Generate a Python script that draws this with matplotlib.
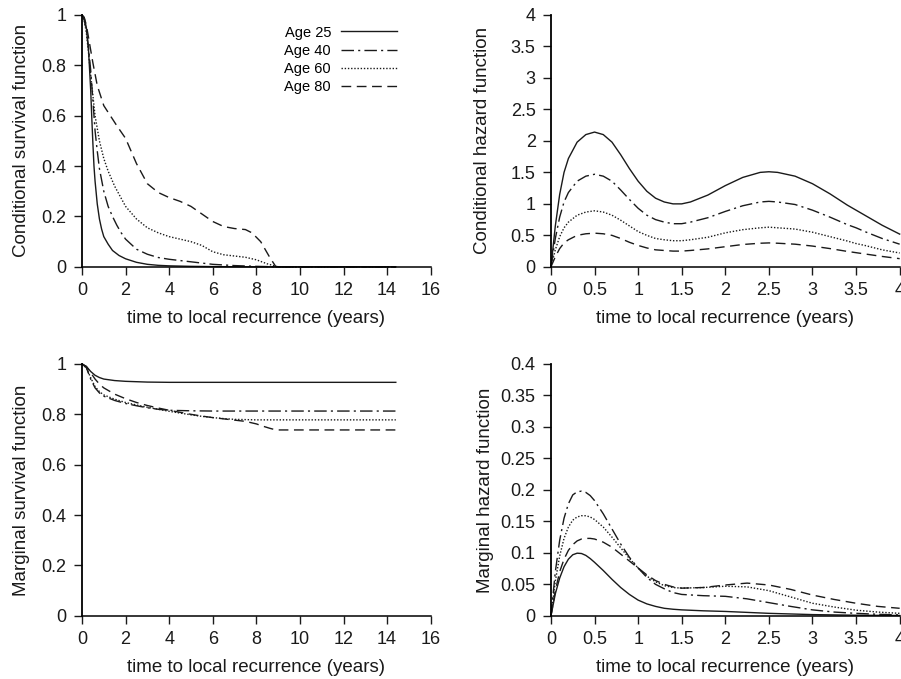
import numpy as np
import matplotlib
matplotlib.use("Agg")
import matplotlib.pyplot as plt
from matplotlib.ticker import FormatStrFormatter

plt.rcParams['font.family'] = ['Liberation Sans', 'DejaVu Sans']

labels = ["Age 25", "Age 40", "Age 60", "Age 80"]

# conditional survival (top left)
cs_t = [
    [0, 0.1, 0.2, 0.3, 0.35, 0.4, 0.45, 0.5, 0.55, 0.6, 0.7, 0.8, 0.9, 1.0, 1.2, 1.4, 1.7, 2.0, 2.5, 3.0, 3.5, 4, 5, 6, 8, 14.4],
    [0, 0.1, 0.2, 0.3, 0.4, 0.5, 0.6, 0.7, 0.8, 1.0, 1.2, 1.4, 1.6, 1.8, 2.0, 2.5, 3, 3.5, 4, 5, 6, 7, 8, 9, 14.4],
    [0, 0.1, 0.2, 0.3, 0.4, 0.5, 0.6, 0.8, 1.0, 1.2, 1.5, 2.0, 2.5, 3.0, 3.5, 4, 4.5, 5, 5.5, 6, 6.5, 7, 7.5, 8, 8.5, 9, 14.4],
    [0, 0.1, 0.2, 0.3, 0.4, 0.5, 0.7, 1.0, 1.3, 1.6, 2.0, 2.5, 3.0, 3.5, 4.0, 4.5, 5.0, 5.5, 6.0, 6.5, 7.0, 7.5, 7.8, 8.2, 8.6, 8.9, 14.4],
]
cs_s = [
    [1, 0.99, 0.95, 0.86, 0.78, 0.70, 0.59, 0.49, 0.40, 0.34, 0.25, 0.19, 0.15, 0.12, 0.09, 0.065, 0.045, 0.032, 0.018, 0.01, 0.006, 0.004, 0.002, 0.001, 0, 0],
    [1, 0.98, 0.94, 0.87, 0.78, 0.66, 0.54, 0.46, 0.39, 0.30, 0.24, 0.20, 0.165, 0.135, 0.11, 0.07, 0.05, 0.037, 0.03, 0.02, 0.01, 0.005, 0.002, 0, 0],
    [1, 0.98, 0.93, 0.85, 0.76, 0.68, 0.6, 0.5, 0.43, 0.38, 0.32, 0.24, 0.19, 0.155, 0.135, 0.12, 0.11, 0.1, 0.085, 0.06, 0.048, 0.043, 0.038, 0.028, 0.012, 0.0, 0],
    [1, 0.99, 0.96, 0.91, 0.86, 0.81, 0.72, 0.64, 0.6, 0.56, 0.51, 0.41, 0.33, 0.295, 0.275, 0.26, 0.24, 0.21, 0.18, 0.16, 0.152, 0.148, 0.135, 0.1, 0.04, 0.0, 0],
]

# conditional hazard (top right)
ch_t = [0, 0.05, 0.1, 0.15, 0.2, 0.3, 0.4, 0.5, 0.6, 0.7, 0.8, 0.9, 1.0, 1.1, 1.2, 1.3, 1.4, 1.5, 1.6,
        1.8, 2.0, 2.2, 2.4, 2.5, 2.6, 2.8, 3.0, 3.2, 3.4, 3.5, 3.6, 3.8, 4.0]
ch_h = [
    [0, 0.65, 1.15, 1.5, 1.72, 1.98, 2.1, 2.14, 2.1, 1.98, 1.78, 1.56, 1.36, 1.2, 1.09, 1.03, 1.0, 1.0, 1.03,
     1.14, 1.29, 1.42, 1.5, 1.51, 1.5, 1.44, 1.32, 1.16, 0.98, 0.9, 0.82, 0.66, 0.52],
    [0, 0.45, 0.79, 1.03, 1.18, 1.36, 1.44, 1.47, 1.44, 1.36, 1.22, 1.07, 0.93, 0.82, 0.75, 0.71, 0.685, 0.685, 0.71,
     0.78, 0.88, 0.97, 1.03, 1.04, 1.03, 0.99, 0.9, 0.79, 0.67, 0.62, 0.56, 0.45, 0.36],
    [0, 0.27, 0.48, 0.62, 0.71, 0.82, 0.87, 0.89, 0.87, 0.82, 0.74, 0.65, 0.56, 0.5, 0.45, 0.43, 0.415, 0.415, 0.43,
     0.47, 0.54, 0.59, 0.62, 0.63, 0.62, 0.6, 0.55, 0.48, 0.41, 0.37, 0.34, 0.27, 0.22],
    [0, 0.16, 0.29, 0.38, 0.43, 0.5, 0.525, 0.535, 0.525, 0.5, 0.45, 0.39, 0.34, 0.3, 0.27, 0.26, 0.25, 0.25, 0.26,
     0.285, 0.32, 0.355, 0.375, 0.38, 0.375, 0.36, 0.33, 0.29, 0.245, 0.225, 0.205, 0.165, 0.13],
]

# marginal survival (bottom left)
ms_t = [
    [0, 0.2, 0.4, 0.6, 0.8, 1.0, 1.5, 2, 3, 4, 6, 10, 14.4],
    [0, 0.2, 0.4, 0.6, 0.8, 1.0, 1.5, 2, 2.5, 3, 3.5, 4, 5, 6, 8, 10, 14.4],
    [0, 0.2, 0.4, 0.6, 0.8, 1.0, 1.5, 2, 2.5, 3, 3.5, 4, 4.5, 5, 5.5, 6, 6.5, 7, 7.5, 8, 10, 14.4],
    [0, 0.2, 0.4, 0.6, 0.8, 1.0, 1.5, 2, 2.5, 3, 3.5, 4, 4.5, 5, 5.5, 6, 6.5, 7, 7.5, 8, 8.3, 8.6, 8.9, 10, 14.4],
]
ms_s = [
    [1, 0.99, 0.97, 0.955, 0.946, 0.94, 0.934, 0.931, 0.928, 0.927, 0.927, 0.927, 0.927],
    [1, 0.985, 0.94, 0.905, 0.885, 0.872, 0.855, 0.843, 0.834, 0.826, 0.82, 0.816, 0.814, 0.813, 0.813, 0.813, 0.813],
    [1, 0.985, 0.945, 0.91, 0.89, 0.877, 0.86, 0.847, 0.837, 0.828, 0.82, 0.812, 0.805, 0.798, 0.792, 0.787, 0.783,
     0.78, 0.779, 0.778, 0.778, 0.778],
    [1, 0.99, 0.965, 0.94, 0.92, 0.905, 0.88, 0.862, 0.847, 0.835, 0.825, 0.816, 0.808, 0.8, 0.793, 0.787, 0.782,
     0.777, 0.772, 0.762, 0.753, 0.745, 0.738, 0.738, 0.738],
]

# marginal hazard (bottom right)
mh_t = [0, 0.05, 0.1, 0.15, 0.2, 0.25, 0.3, 0.35, 0.4, 0.45, 0.5, 0.6, 0.7, 0.8, 0.9, 1.0, 1.1, 1.2, 1.3, 1.4,
        1.5, 1.75, 2.0, 2.25, 2.5, 2.75, 3.0, 3.25, 3.5, 3.75, 4.0]
mh_h = [
    [0, 0.035, 0.06, 0.078, 0.09, 0.097, 0.0995, 0.099, 0.096, 0.091, 0.085, 0.072, 0.058, 0.045, 0.034, 0.025,
     0.019, 0.015, 0.012, 0.0105, 0.0095, 0.008, 0.007, 0.0055, 0.004, 0.003, 0.002, 0.0015, 0.001, 0.0008, 0.0006],
    [0, 0.07, 0.12, 0.155, 0.178, 0.192, 0.197, 0.198, 0.196, 0.191, 0.183, 0.162, 0.138, 0.114, 0.093, 0.076,
     0.061, 0.05, 0.043, 0.037, 0.034, 0.032, 0.031, 0.027, 0.021, 0.015, 0.0095, 0.006, 0.004, 0.0025, 0.0015],
    [0, 0.055, 0.095, 0.123, 0.141, 0.152, 0.157, 0.159, 0.159, 0.157, 0.153, 0.141, 0.125, 0.108, 0.091, 0.076,
     0.063, 0.054, 0.048, 0.045, 0.044, 0.045, 0.047, 0.046, 0.04, 0.03, 0.02, 0.014, 0.009, 0.006, 0.004],
    [0, 0.04, 0.07, 0.09, 0.104, 0.113, 0.119, 0.122, 0.123, 0.123, 0.122, 0.117, 0.109, 0.098, 0.087, 0.076,
     0.065, 0.056, 0.05, 0.046, 0.044, 0.045, 0.049, 0.052, 0.049, 0.042, 0.033, 0.026, 0.02, 0.015, 0.012],
]

styles = ['-', (0, (9, 3, 1.5, 3)), (0, (1, 1.3)), (0, (7, 4))]
ink = '#1a1a1a'

fig = plt.figure(figsize=(9.01, 6.79), dpi=100)
w, h = 0.387, 0.371
ax_cs = fig.add_axes([0.091, 0.607, w, h])
ax_ch = fig.add_axes([0.6115, 0.607, w, h])
ax_ms = fig.add_axes([0.091, 0.093, w, h])
ax_mh = fig.add_axes([0.6115, 0.093, w, h])

for i in range(4):
    ax_cs.plot(cs_t[i], cs_s[i], color=ink, lw=1.0, ls=styles[i], label=labels[i], clip_on=False)
    ax_ch.plot(ch_t, ch_h[i], color=ink, lw=1.0, ls=styles[i], clip_on=False)
    ax_ms.plot(ms_t[i], ms_s[i], color=ink, lw=1.0, ls=styles[i], clip_on=False)
    ax_mh.plot(mh_t, mh_h[i], color=ink, lw=1.0, ls=styles[i], clip_on=False)

def style(ax, xmax, xstep, ymax, ystep, ylabel, ypad):
    ax.set_xlim(0, xmax)
    ax.set_ylim(0, ymax)
    ax.set_xticks(np.arange(0, xmax + xstep / 2, xstep))
    ax.set_yticks(np.arange(0, ymax + ystep / 2, ystep))
    ax.xaxis.set_major_formatter(FormatStrFormatter('%g'))
    ax.yaxis.set_major_formatter(FormatStrFormatter('%g'))
    for s in ['top', 'right']:
        ax.spines[s].set_visible(False)
    ax.spines['left'].set_linewidth(1.3)
    ax.spines['bottom'].set_linewidth(1.1)
    ax.tick_params(direction='out', length=6, width=1, pad=5, labelsize=13, colors=ink)
    ax.set_xlabel('time to local recurrence (years)', fontsize=13.5, color=ink, labelpad=8)
    ax.set_ylabel(ylabel, fontsize=13.5, color=ink, labelpad=ypad)

style(ax_cs, 16, 2, 1, 0.2, 'Conditional survival function', 8)
style(ax_ch, 4, 0.5, 4, 0.5, 'Conditional hazard function', 14)
style(ax_ms, 16, 2, 1, 0.2, 'Marginal survival function', 8)
style(ax_mh, 4, 0.5, 0.4, 0.05, 'Marginal hazard function', 5)

ax_cs.legend(loc='upper right', bbox_to_anchor=(0.94, 1.01), frameon=False, markerfirst=False,
             fontsize=10.5, handlelength=3.8, labelspacing=0.28, handletextpad=0.7)

fig.savefig('out.png', dpi=100)
